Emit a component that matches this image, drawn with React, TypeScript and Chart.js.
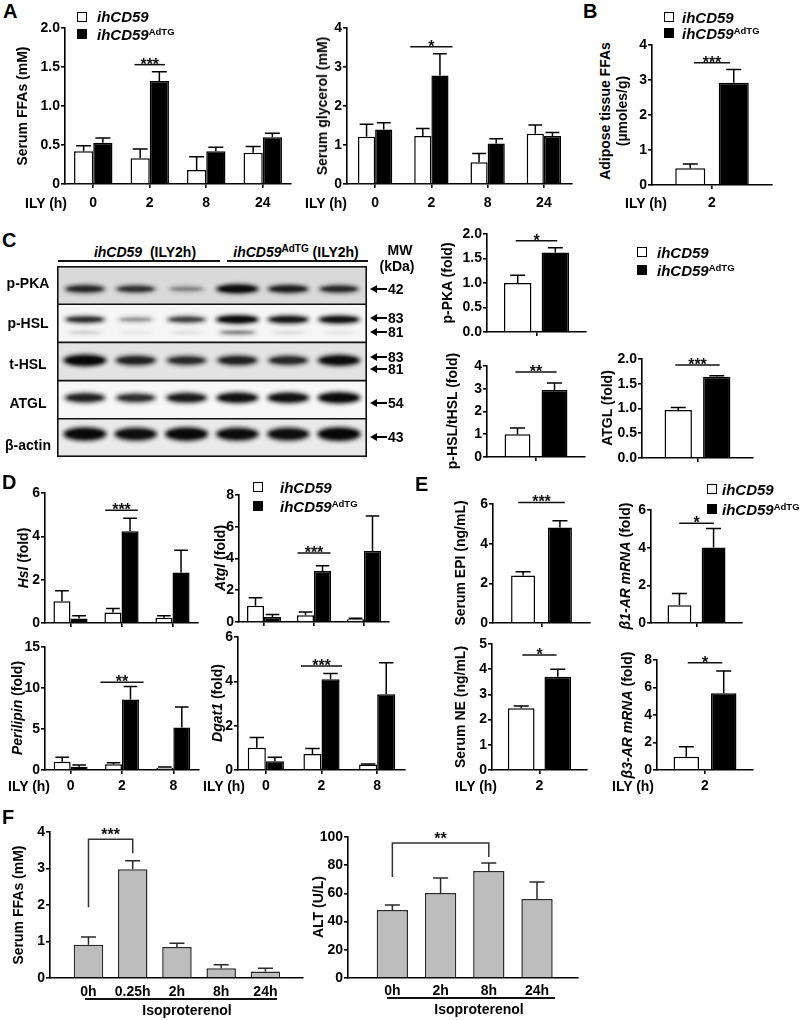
import React, { useEffect, useRef } from 'react';
import { Chart, registerables } from 'chart.js';

Chart.register(...registerables);

const FONT = '"Liberation Sans", Arial, Helvetica, sans-serif';
Chart.defaults.font.family = FONT;
Chart.defaults.color = '#000';

/* ---------------- categories & tick labels ---------------- */
const ilyHours4 = ['0', '2', '8', '24'];
const ilyHours3 = ['0', '2', '8'];
const ilyHour2 = ['2'];
const isoFfaTimes = ['0h', '0.25h', '2h', '8h', '24h'];
const isoAltTimes = ['0h', '2h', '8h', '24h'];

const ticksFfaA = ['0', '0.5', '1.0', '1.5', '2.0'];
const ticks0to4 = ['0', '1', '2', '3', '4'];
const ticksFold2 = ['0.0', '0.5', '1.0', '1.5', '2.0'];
const ticks0to6by2 = ['0', '2', '4', '6'];
const ticks0to8by2 = ['0', '2', '4', '6', '8'];
const ticks0to15by5 = ['0', '5', '10', '15'];
const ticks0to5 = ['0', '1', '2', '3', '4', '5'];
const ticks0to100 = ['0', '20', '40', '60', '80', '100'];

/* ---------------- values (mean, SEM) ---------------- */
// A: serum FFAs
const ffaCtrl = [0.42, 0.33, 0.18, 0.4];
const ffaCtrlErr = [0.07, 0.12, 0.17, 0.08];
const ffaTg = [0.53, 1.32, 0.42, 0.6];
const ffaTgErr = [0.06, 0.12, 0.05, 0.05];
// A: serum glycerol
const glyCtrl = [1.21, 1.23, 0.56, 1.29];
const glyCtrlErr = [0.32, 0.19, 0.22, 0.22];
const glyTg = [1.4, 2.78, 1.04, 1.23];
const glyTgErr = [0.17, 0.56, 0.12, 0.09];
// B: adipose tissue FFAs
const adiCtrl = [0.48];
const adiCtrlErr = [0.12];
const adiTg = [2.92];
const adiTgErr = [0.38];
// C: densitometry
const pkaCtrl = [1.0];
const pkaCtrlErr = [0.16];
const pkaTg = [1.62];
const pkaTgErr = [0.1];
const phslCtrl = [1.0];
const phslCtrlErr = [0.27];
const phslTg = [2.95];
const phslTgErr = [0.3];
const atglCtrl = [0.97];
const atglCtrlErr = [0.05];
const atglTg = [1.64];
const atglTgErr = [0.02];
// D: mRNA
const hslCtrl = [1.0, 0.49, 0.24];
const hslCtrlErr = [0.49, 0.18, 0.09];
const hslTg = [0.21, 4.23, 2.33];
const hslTgErr = [0.12, 0.6, 1.03];
const atglMCtrl = [1.03, 0.42, 0.17];
const atglMCtrlErr = [0.49, 0.21, 0.06];
const atglMTg = [0.32, 3.22, 4.48];
const atglMTgErr = [0.16, 0.32, 2.19];
const periCtrl = [1.01, 0.69, 0.28];
const periCtrlErr = [0.53, 0.2, 0.08];
const periTg = [0.41, 8.59, 5.19];
const periTgErr = [0.2, 1.6, 2.5];
const dgatCtrl = [1.0, 0.72, 0.25];
const dgatCtrlErr = [0.47, 0.25, 0.02];
const dgatTg = [0.4, 4.09, 3.42];
const dgatTgErr = [0.17, 0.26, 1.42];
// E
const epiCtrl = [2.39];
const epiCtrlErr = [0.19];
const epiTg = [4.81];
const epiTgErr = [0.35];
const b1Ctrl = [0.94];
const b1CtrlErr = [0.62];
const b1Tg = [4.01];
const b1TgErr = [1.01];
const neCtrl = [2.45];
const neCtrlErr = [0.09];
const neTg = [3.7];
const neTgErr = [0.3];
const b3Ctrl = [0.97];
const b3CtrlErr = [0.73];
const b3Tg = [5.58];
const b3TgErr = [1.62];
// F
const isoFfa = [0.91, 2.98, 0.85, 0.27, 0.18];
const isoFfaErr = [0.21, 0.23, 0.1, 0.09, 0.09];
const isoAlt = [48.2, 60.3, 75.9, 56.0];
const isoAltErr = [3.6, 10.6, 5.7, 12.0];

// Western blot band intensities (0..1), lanes 1-3 ihCD59, 4-6 ihCD59AdTG
const blotRowNames = ['p-PKA', 'p-HSL', 't-HSL', 'ATGL', 'β-actin'];
const bandPka = [0.74, 0.68, 0.3, 0.97, 0.82, 0.72];
const bandPhsl = [0.74, 0.3, 0.64, 1.0, 0.88, 0.92];
const bandPhslLow = [0.14, 0.06, 0.08, 0.42, 0.1, 0.06];
const bandThsl = [1.0, 0.78, 0.72, 0.78, 0.74, 0.95];
const bandAtgl = [0.78, 0.7, 0.82, 0.9, 0.9, 0.97];
const bandActin = [0.97, 0.93, 0.98, 0.94, 0.92, 1.0];
const blotMw = ['42', '83', '81', '83', '81', '54', '43'];

/* ---------------- styles ---------------- */
const FILL: any = { white: '#ffffff', black: '#000000', gray: '#bdbdbd' };
const EDGE: any = { white: '#000000', black: '#000000', gray: '#2a2a2a' };

type Series = { values: number[]; errors: number[]; kind: string };
type Spec = {
  key: string;
  plot: number[];
  labels: string[];
  series: Series[];
  yMax: number;
  yStep: number;
  yTickLabels: string[];
  catPct: number;
  barPct: number;
  sig?: { cat: number; level: number; text: string; half: number }[];
  brackets?: { from: number; to: number; level: number; legFrom: number; legTo: number; text: string }[];
  linearX?: number[];
  showX: boolean;
  xTicks: boolean;
  xPad: number;
};

const wb = (c: number[], ce: number[], t: number[], te: number[]): Series[] => [
  { values: c, errors: ce, kind: 'white' },
  { values: t, errors: te, kind: 'black' },
];

const specs: Spec[] = [
  { key: 'ffaA', plot: [65, 28, 291, 184], labels: ilyHours4, series: wb(ffaCtrl, ffaCtrlErr, ffaTg, ffaTgErr), yMax: 2, yStep: 0.5, yTickLabels: ticksFfaA, catPct: 0.68, barPct: 1, sig: [{ cat: 1, level: 1.53, text: '***', half: 0.27 }], showX: true, xTicks: true, xPad: 7 },
  { key: 'glyA', plot: [347, 28, 572, 184], labels: ilyHours4, series: wb(glyCtrl, glyCtrlErr, glyTg, glyTgErr), yMax: 4, yStep: 1, yTickLabels: ticks0to4, catPct: 0.61, barPct: 1, sig: [{ cat: 1, level: 3.52, text: '*', half: 0.375 }], showX: true, xTicks: true, xPad: 7 },
  { key: 'adiB', plot: [652, 45, 772, 185], labels: ilyHour2, series: wb(adiCtrl, adiCtrlErr, adiTg, adiTgErr), yMax: 4, yStep: 1, yTickLabels: ticks0to4, catPct: 0.725, barPct: 0.69, sig: [{ cat: 0, level: 3.49, text: '***', half: 0.15 }], showX: true, xTicks: true, xPad: 5.6 },
  { key: 'pka', plot: [487, 234, 586, 332], labels: ilyHour2, series: wb(pkaCtrl, pkaCtrlErr, pkaTg, pkaTgErr), yMax: 2, yStep: 0.5, yTickLabels: ticksFold2, catPct: 0.76, barPct: 0.73, sig: [{ cat: 0, level: 1.86, text: '*', half: 0.21 }], showX: false, xTicks: true, xPad: 4 },
  { key: 'phsl', plot: [487, 366, 585, 457], labels: ilyHour2, series: wb(phslCtrl, phslCtrlErr, phslTg, phslTgErr), yMax: 4, yStep: 1, yTickLabels: ticks0to4, catPct: 0.755, barPct: 0.7, sig: [{ cat: 0, level: 3.74, text: '**', half: 0.21 }], showX: false, xTicks: true, xPad: 4 },
  { key: 'atglC', plot: [642, 359, 753, 458], labels: ilyHour2, series: wb(atglCtrl, atglCtrlErr, atglTg, atglTgErr), yMax: 2, yStep: 0.5, yTickLabels: ticksFold2, catPct: 0.694, barPct: 0.71, sig: [{ cat: 0, level: 1.88, text: '***', half: 0.2 }], showX: false, xTicks: true, xPad: 4 },
  { key: 'hsl', plot: [45, 493, 198, 623], labels: ilyHours3, series: wb(hslCtrl, hslCtrlErr, hslTg, hslTgErr), yMax: 6, yStep: 2, yTickLabels: ticks0to6by2, catPct: 0.67, barPct: 1, sig: [{ cat: 1, level: 5.2, text: '***', half: 0.32 }], showX: false, xTicks: true, xPad: 3.6 },
  { key: 'atglD', plot: [239, 495, 389, 622], labels: ilyHours3, series: wb(atglMCtrl, atglMCtrlErr, atglMTg, atglMTgErr), yMax: 8, yStep: 2, yTickLabels: ticks0to8by2, catPct: 0.68, barPct: 1, sig: [{ cat: 1, level: 4.34, text: '***', half: 0.33 }], showX: false, xTicks: true, xPad: 3.6 },
  { key: 'peri', plot: [45, 647, 199, 770], labels: ilyHours3, series: wb(periCtrl, periCtrlErr, periTg, periTgErr), yMax: 15, yStep: 5, yTickLabels: ticks0to15by5, catPct: 0.66, barPct: 1, sig: [{ cat: 1, level: 10.7, text: '**', half: 0.42 }], showX: true, xTicks: true, xPad: 3.6 },
  { key: 'dgat', plot: [238, 637, 405, 770], labels: ilyHours3, series: wb(dgatCtrl, dgatCtrlErr, dgatTg, dgatTgErr), yMax: 6, yStep: 2, yTickLabels: ticks0to6by2, catPct: 0.65, barPct: 1, sig: [{ cat: 1, level: 4.69, text: '***', half: 0.37 }], showX: true, xTicks: true, xPad: 3.6 },
  { key: 'epi', plot: [493, 504, 590, 623], labels: ilyHour2, series: wb(epiCtrl, epiCtrlErr, epiTg, epiTgErr), yMax: 6, yStep: 2, yTickLabels: ticks0to6by2, catPct: 0.76, barPct: 0.65, sig: [{ cat: 0, level: 6.08, text: '***', half: 0.24 }], showX: false, xTicks: true, xPad: 3.6 },
  { key: 'b1', plot: [651, 510, 742, 623], labels: ilyHour2, series: wb(b1Ctrl, b1CtrlErr, b1Tg, b1TgErr), yMax: 6, yStep: 2, yTickLabels: ticks0to6by2, catPct: 0.75, barPct: 0.7, sig: [{ cat: 0, level: 5.3, text: '*', half: 0.19 }], showX: false, xTicks: true, xPad: 3.6 },
  { key: 'ne', plot: [492, 644, 587, 770], labels: ilyHour2, series: wb(neCtrl, neCtrlErr, neTg, neTgErr), yMax: 5, yStep: 1, yTickLabels: ticks0to5, catPct: 0.77, barPct: 0.73, sig: [{ cat: 0, level: 4.56, text: '*', half: 0.18 }], showX: true, xTicks: true, xPad: 3.6 },
  { key: 'b3', plot: [657, 660, 753, 770], labels: ilyHour2, series: wb(b3Ctrl, b3CtrlErr, b3Tg, b3TgErr), yMax: 8, yStep: 2, yTickLabels: ticks0to8by2, catPct: 0.78, barPct: 0.68, sig: [{ cat: 0, level: 7.8, text: '*', half: 0.18 }], showX: true, xTicks: true, xPad: 3.6 },
  { key: 'isoFfa', plot: [50, 832, 303, 978], labels: isoFfaTimes, series: [{ values: isoFfa, errors: isoFfaErr, kind: 'gray' }], yMax: 4, yStep: 1, yTickLabels: ticks0to4, catPct: 1, barPct: 0.667, linearX: [-0.87, 4.85], brackets: [{ from: 0, to: 1, level: 3.8, legFrom: 1.94, legTo: 3.42, text: '***' }], showX: true, xTicks: false, xPad: 5.6 },
  { key: 'isoAlt', plot: [348, 837, 578, 978], labels: isoAltTimes, series: [{ values: isoAlt, errors: isoAltErr, kind: 'gray' }], yMax: 100, yStep: 20, yTickLabels: ticks0to100, catPct: 1, barPct: 0.65, linearX: [-0.92, 3.85], brackets: [{ from: 0, to: 2, level: 95.7, legFrom: 71.6, legTo: 85.8, text: '**' }], showX: true, xTicks: false, xPad: 4.5 },
];

function canvasBox(s: Spec) {
  const [l, t, r, b] = s.plot;
  const x = l - 36;
  const y = t - 26;
  return { x, y, w: r - x + 10, h: b + 28 - y };
}

function makeOverlay(s: Spec) {
  return {
    id: 'overlay',
    afterDatasetsDraw(chart: any) {
      const ctx = chart.ctx;
      const xs = chart.scales.x;
      const ys = chart.scales.y;
      ctx.save();
      ctx.lineWidth = 1.5;
      ctx.lineCap = 'butt';
      chart.data.datasets.forEach((ds: any, di: number) => {
        const meta = chart.getDatasetMeta(di);
        const ser = s.series[di];
        ctx.strokeStyle = EDGE[ser.kind];
        meta.data.forEach((el: any, i: number) => {
          const v = ser.values[i];
          const e = ser.errors[i];
          if (!e) return;
          const yTop = ys.getPixelForValue(v + e);
          const yBar = ys.getPixelForValue(v);
          const cap = Math.min(el.width * 0.8, 15) / 2;
          ctx.beginPath();
          ctx.moveTo(el.x, yBar);
          ctx.lineTo(el.x, yTop);
          ctx.moveTo(el.x - cap, yTop);
          ctx.lineTo(el.x + cap, yTop);
          ctx.stroke();
        });
      });
      ctx.strokeStyle = '#111';
      ctx.fillStyle = '#111';
      ctx.font = `bold 16px ${FONT}`;
      ctx.textAlign = 'center';
      ctx.textBaseline = 'alphabetic';
      const catW = chart.chartArea.width / s.labels.length;
      (s.sig || []).forEach((g) => {
        const cx = xs.getPixelForValue(g.cat);
        const yl = ys.getPixelForValue(g.level);
        ctx.beginPath();
        ctx.moveTo(cx - g.half * catW, yl);
        ctx.lineTo(cx + g.half * catW, yl);
        ctx.stroke();
        ctx.fillText(g.text, cx, yl + 5);
      });
      (s.brackets || []).forEach((bk) => {
        const xa = xs.getPixelForValue(bk.from);
        const xb = xs.getPixelForValue(bk.to);
        const yt = ys.getPixelForValue(bk.level);
        ctx.strokeStyle = '#333';
        ctx.beginPath();
        ctx.moveTo(xa, ys.getPixelForValue(bk.legFrom));
        ctx.lineTo(xa, yt);
        ctx.lineTo(xb, yt);
        ctx.lineTo(xb, ys.getPixelForValue(bk.legTo));
        ctx.stroke();
        ctx.fillText(bk.text, (xa + xb) / 2, yt + 1);
      });
      ctx.restore();
    },
  };
}

function buildConfig(s: Spec) {
  const [l, t, r, b] = s.plot;
  const box = canvasBox(s);
  const tickFont = { family: FONT, size: 14, weight: 'bold' as const };
  const datasets = s.series.map((ser) => ({
    data: s.linearX ? ser.values.map((v, i) => ({ x: i, y: v })) : ser.values,
    backgroundColor: FILL[ser.kind],
    borderColor: EDGE[ser.kind],
    borderWidth: 1.5,
    borderSkipped: 'start',
    categoryPercentage: s.catPct,
    barPercentage: s.barPct,
  }));
  const xScale: any = {
    type: s.linearX ? 'linear' : 'category',
    offset: !s.linearX,
    z: 1,
    afterFit: (sc: any) => {
      sc.height = box.y + box.h - b;
    },
    border: { display: true, color: '#000', width: 1.6 },
    grid: { display: true, drawOnChartArea: false, drawTicks: s.xTicks, tickLength: 4, color: '#000', lineWidth: 1.6, offset: false },
    ticks: {
      display: s.showX,
      padding: s.xPad,
      autoSkip: false,
      maxRotation: 0,
      font: tickFont,
      color: '#000',
    },
  };
  if (s.linearX) {
    xScale.min = s.linearX[0];
    xScale.max = s.linearX[1];
    xScale.ticks.stepSize = 1;
    xScale.ticks.includeBounds = false;
    xScale.ticks.callback = (v: number) => (Number.isInteger(v) && s.labels[v] !== undefined ? s.labels[v] : '');
  }
  return {
    type: 'bar',
    data: { labels: s.linearX ? undefined : s.labels, datasets },
    options: {
      responsive: false,
      maintainAspectRatio: false,
      animation: false,
      events: [],
      layout: { padding: { left: 0, top: t - box.y, right: box.x + box.w - r, bottom: 0 } },
      plugins: { legend: { display: false }, tooltip: { enabled: false }, title: { display: false } },
      scales: {
        x: xScale,
        y: {
          min: 0,
          max: s.yMax,
          z: 1,
          afterFit: (sc: any) => {
            sc.width = l - box.x;
          },
          border: { display: true, color: '#000', width: 1.6 },
          grid: { display: true, drawOnChartArea: false, drawTicks: true, tickLength: 4, color: '#000', lineWidth: 1.6 },
          ticks: {
            stepSize: s.yStep,
            autoSkip: false,
            padding: 1,
            font: tickFont,
            color: '#000',
            callback: (v: number) => s.yTickLabels[Math.round(v / s.yStep)] ?? '',
          },
        },
      },
    },
    plugins: [makeOverlay(s)],
  };
}

/* ---------------- western blot ---------------- */
const blotLayers = [
  { row: 0, vals: bandPka, shift: 0.1, hh: 4.5 },
  { row: 1, vals: bandPhsl, shift: -0.1, hh: 4 },
  { row: 1, vals: bandPhslLow, shift: 0.24, hh: 3 },
  { row: 2, vals: bandThsl, shift: -0.03, hh: 5.5 },
  { row: 3, vals: bandAtgl, shift: -0.05, hh: 5.5 },
  { row: 4, vals: bandActin, shift: -0.1, hh: 6.5 },
];
const blotRowBg = ['#dadada', '#f6f6f6', '#e3e3e3', '#f7f7f7', '#eaeaea'];

const blotPlugin = {
  id: 'blotBands',
  beforeDatasetsDraw(chart: any) {
    const { ctx, chartArea: a } = chart;
    const xs = chart.scales.x;
    const ys = chart.scales.y;
    ctx.save();
    blotRowBg.forEach((c, r) => {
      const y0 = ys.getPixelForValue(r - 0.5);
      const y1 = ys.getPixelForValue(r + 0.5);
      ctx.fillStyle = c;
      ctx.fillRect(a.left, y0, a.width, y1 - y0);
    });
    ctx.beginPath();
    ctx.rect(a.left, a.top, a.width, a.height);
    ctx.clip();
    chart.data.datasets.forEach((ds: any) => {
      ds.data.forEach((p: any) => {
        const px = xs.getPixelForValue(p.x);
        const py = ys.getPixelForValue(p.y);
        const v = p.v;
        const hh = ds.hh * (0.55 + 0.55 * v);
        const hw = 18 + 4 * v;
        ctx.filter = 'blur(2.2px)';
        ctx.fillStyle = `rgba(10,10,10,${Math.min(1, v * 0.95)})`;
        ctx.beginPath();
        ctx.ellipse(px, py, hw, hh, 0, 0, Math.PI * 2);
        ctx.fill();
        ctx.filter = 'blur(1.2px)';
        ctx.fillStyle = `rgba(0,0,0,${v * 0.7})`;
        ctx.beginPath();
        ctx.ellipse(px, py, hw * 0.82, hh * 0.6, 0, 0, Math.PI * 2);
        ctx.fill();
      });
    });
    ctx.restore();
  },
  afterDraw(chart: any) {
    const { ctx, chartArea: a } = chart;
    const ys = chart.scales.y;
    ctx.save();
    ctx.strokeStyle = '#111';
    ctx.lineWidth = 1.6;
    ctx.strokeRect(a.left + 0.8, a.top + 0.8, a.width - 1.6, a.height - 1.6);
    for (let r = 0; r < blotRowNames.length - 1; r++) {
      const y = ys.getPixelForValue(r + 0.5);
      ctx.beginPath();
      ctx.moveTo(a.left, y);
      ctx.lineTo(a.right, y);
      ctx.stroke();
    }
    ctx.restore();
  },
};

function blotConfig() {
  return {
    type: 'scatter',
    data: {
      datasets: blotLayers.map((L) => ({
        data: L.vals.map((v, i) => ({ x: i + 1, y: L.row + L.shift, v })),
        pointRadius: 0,
        hh: L.hh,
      })),
    },
    options: {
      responsive: false,
      animation: false,
      events: [],
      layout: { padding: 0 },
      plugins: { legend: { display: false }, tooltip: { enabled: false } },
      scales: {
        x: { type: 'linear', display: false, min: 0.45, max: 6.55 },
        y: { type: 'linear', display: false, min: -0.5, max: 4.5, reverse: true },
      },
    },
    plugins: [blotPlugin],
  };
}

/* ---------------- text helpers ---------------- */
const T = ({ x, y, s = 14, a = 'left', children, st }: any) => {
  const tx = a === 'center' ? '-50%' : a === 'right' ? '-100%' : '0';
  return (
    <div
      style={{
        position: 'absolute',
        left: x,
        top: y - s / 2,
        fontSize: s,
        lineHeight: `${s}px`,
        whiteSpace: 'nowrap',
        transform: `translateX(${tx})`,
        ...st,
      }}
    >
      {children}
    </div>
  );
};

const VT = ({ x, y, s = 14, children }: any) => (
  <div
    style={{
      position: 'absolute',
      left: x,
      top: y,
      fontSize: s,
      lineHeight: `${s}px`,
      whiteSpace: 'nowrap',
      transform: 'translate(-50%,-50%) rotate(-90deg)',
    }}
  >
    {children}
  </div>
);

const Sup = ({ s = 9.5 }: any) => (
  <span style={{ fontSize: s, fontStyle: 'normal', position: 'relative', top: -5 }}>AdTG</span>
);

const LegendPair = ({ x, y1, y2, tx }: any) => (
  <>
    <div style={{ position: 'absolute', left: x, top: y1 - 5, width: 10, height: 10, boxSizing: 'border-box', border: '1.5px solid #000', background: '#fff' }} />
    <T x={tx} y={y1} s={15} st={{ fontStyle: 'italic' }}>ihCD59</T>
    <div style={{ position: 'absolute', left: x, top: y2 - 5, width: 10, height: 10, background: '#000' }} />
    <T x={tx} y={y2} s={15} st={{ fontStyle: 'italic' }}>
      ihCD59
      <Sup />
    </T>
  </>
);

const HLine = ({ x1, x2, y }: any) => (
  <div style={{ position: 'absolute', left: x1, top: y - 0.75, width: x2 - x1, height: 1.5, background: '#111' }} />
);

const MwArrow = ({ x, y, label }: any) => (
  <>
    <div style={{ position: 'absolute', left: x + 5, top: y - 0.9, width: 12, height: 1.8, background: '#000' }} />
    <div
      style={{
        position: 'absolute',
        left: x,
        top: y - 4,
        width: 0,
        height: 0,
        borderTop: '4px solid transparent',
        borderBottom: '4px solid transparent',
        borderRight: '7px solid #000',
      }}
    />
    <T x={x + 18} y={y}>{label}</T>
  </>
);

export default function App() {
  const refs = useRef<(HTMLCanvasElement | null)[]>([]);
  const blotRef = useRef<HTMLCanvasElement | null>(null);

  useEffect(() => {
    const charts: any[] = [];
    specs.forEach((s, i) => {
      const c = refs.current[i];
      if (c) charts.push(new Chart(c, buildConfig(s) as any));
    });
    if (blotRef.current) charts.push(new Chart(blotRef.current, blotConfig() as any));
    return () => charts.forEach((c) => c.destroy());
  }, []);

  const blotBox = { x: 57, y: 266, w: 310, h: 191 };
  const mwY = [289, 318, 332, 357, 369, 403, 437];
  const rowLabelY = [283, 323, 364, 403, 445];

  return (
    <div
      style={{
        position: 'absolute',
        left: 0,
        top: 0,
        width: 800,
        height: 1020,
        background: '#fff',
        overflow: 'hidden',
        fontFamily: FONT,
        fontWeight: 'bold',
        color: '#000',
      }}
    >
      {specs.map((s, i) => {
        const b = canvasBox(s);
        return (
          <canvas
            key={s.key}
            ref={(el) => {
              refs.current[i] = el;
            }}
            width={b.w}
            height={b.h}
            style={{ position: 'absolute', left: b.x, top: b.y, width: b.w, height: b.h }}
          />
        );
      })}
      <canvas
        ref={blotRef}
        width={blotBox.w}
        height={blotBox.h}
        style={{ position: 'absolute', left: blotBox.x, top: blotBox.y, width: blotBox.w, height: blotBox.h }}
      />

      {/* panel letters */}
      <T x={3} y={11} s={20}>A</T>
      <T x={583} y={11} s={20}>B</T>
      <T x={2} y={240} s={20}>C</T>
      <T x={2} y={482} s={20}>D</T>
      <T x={415} y={484} s={20}>E</T>
      <T x={2} y={817} s={20}>F</T>

      {/* legends */}
      <LegendPair x={77} y1={16.5} y2={34} tx={97} />
      <LegendPair x={664} y1={17} y2={33} tx={682} />
      <LegendPair x={637} y1={252} y2={270} tx={657} />
      <LegendPair x={253} y1={487} y2={506} tx={280} />
      <LegendPair x={707} y1={489} y2={509} tx={722} />

      {/* ILY (h) labels */}
      <T x={25} y={203}>ILY (h)</T>
      <T x={305} y={203}>ILY (h)</T>
      <T x={625} y={203}>ILY (h)</T>
      <T x={8} y={786}>ILY (h)</T>
      <T x={203} y={786}>ILY (h)</T>
      <T x={455} y={786}>ILY (h)</T>
      <T x={612} y={786}>ILY (h)</T>

      {/* y titles */}
      <VT x={22} y={106}>Serum FFAs (mM)</VT>
      <VT x={322} y={106}>Serum glycerol (mM)</VT>
      <VT x={605} y={111}>Adipose tissue FFAs</VT>
      <VT x={622} y={111}>(µmoles/g)</VT>
      <VT x={447} y={283}>p-PKA (fold)</VT>
      <VT x={452} y={411}>p-HSL/tHSL (fold)</VT>
      <VT x={607} y={408}>ATGL (fold)</VT>
      <VT x={23} y={558}><i>Hsl</i> (fold)</VT>
      <VT x={220} y={558}><i>Atgl</i> (fold)</VT>
      <VT x={17} y={708}><i>Perilipin</i> (fold)</VT>
      <VT x={217} y={703}><i>Dgat1</i> (fold)</VT>
      <VT x={460} y={563}>Serum EPI (ng/mL)</VT>
      <VT x={625} y={566}><i>β1-AR mRNA</i> (fold)</VT>
      <VT x={460} y={707}>Serum NE (ng/mL)</VT>
      <VT x={627} y={715}><i>β3-AR mRNA</i> (fold)</VT>
      <VT x={18} y={905}>Serum FFAs (mM)</VT>
      <VT x={318} y={907}>ALT (U/L)</VT>

      {/* blot annotations */}
      <T x={145} y={252} a="center"><i>ihCD59</i>&nbsp; (ILY2h)</T>
      <T x={296} y={252} a="center"><i>ihCD59</i><Sup s={10} /> (ILY2h)</T>
      <HLine x1={58} x2={220} y={261} />
      <HLine x1={227} x2={368} y={261} />
      <T x={400} y={250} a="center">MW</T>
      <T x={397} y={266} a="center">(kDa)</T>
      {blotRowNames.map((n, i) => (
        <T key={n} x={28} y={rowLabelY[i]} a="center">{n}</T>
      ))}
      {blotMw.map((m, i) => (
        <MwArrow key={i} x={370} y={mwY[i]} label={m} />
      ))}

      {/* F isoproterenol */}
      <HLine x1={85} x2={277} y={999} />
      <T x={187} y={1010} a="center">Isoproterenol</T>
      <HLine x1={387} x2={555} y={998} />
      <T x={479} y={1009} a="center">Isoproterenol</T>
    </div>
  );
}
